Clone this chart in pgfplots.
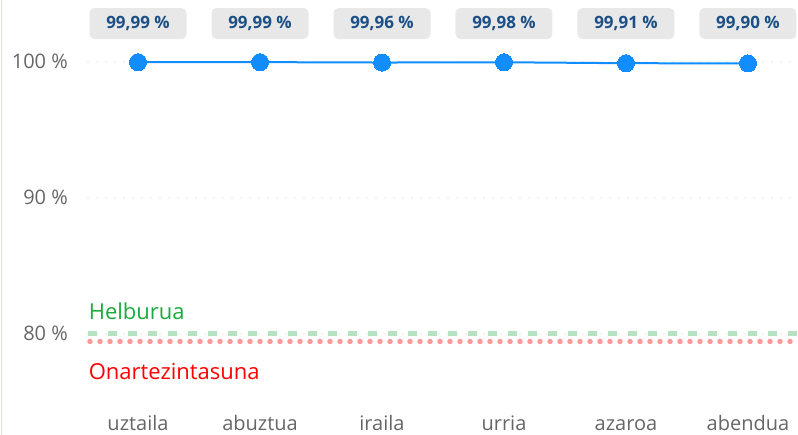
\documentclass[border=0pt]{standalone}
\usepackage{pgfplots}
\pgfplotsset{compat=1.18}
\usepackage{fontspec}
\setmainfont{Open Sans}
\definecolor{pbblue}{HTML}{118DFF}
\definecolor{lblgray}{HTML}{666666}
\definecolor{boxgray}{HTML}{E8E8E8}
\definecolor{lbltext}{HTML}{1B4F86}
\definecolor{tgtgreen}{HTML}{1AAB40}
\definecolor{tgtgreenlight}{HTML}{B5E3C2}
\definecolor{tolred}{HTML}{FF0000}
\definecolor{tolredlight}{HTML}{FF9A9A}
\definecolor{gridgray}{HTML}{C8C8C8}
\definecolor{borderc}{HTML}{E3E0DB}
\begin{document}
\begin{tikzpicture}[x=1pt,y=1pt]
\path[use as bounding box] (0,0) rectangle (798,435);
\draw[color=borderc, line width=1.5pt] (1.5,0) -- (1.5,435);
\begin{axis}[at={(88pt,35pt)}, anchor=south west, scale only axis,
  width=710pt, height=400pt,
  xmin=-0.41, xmax=5.41, ymin=75.147, ymax=104.559,
  clip=false,
  axis line style={draw=none},
  major tick length=0pt,
  tick style={draw=none},
  xtick={0,1,2,3,4,5},
  xticklabels={uztaila,abuztua,iraila,urria,azaroa,abendua},
  ytick={80,90,100},
  yticklabels={80 \%,90 \%,100 \%},
  ticklabel style={font=\fontsize{20}{24}\selectfont, text=lblgray, inner sep=0pt},
  xticklabel style={anchor=base, yshift=-31pt, text depth=0pt},
  yticklabel style={anchor=base east, xshift=-20pt, yshift=-7pt},
  ymajorgrids,
  grid style={gridgray, line width=1.3pt, line cap=round, dash pattern=on 0pt off 9pt},
]
\addplot[tgtgreenlight, line width=5pt, dash pattern=on 9pt off 11pt] coordinates {(-0.41,80) (5.41,80)};
\addplot[tolredlight, line width=5.5pt, line cap=round, dash pattern=on 0pt off 10pt, dash phase=-2pt] coordinates {(-0.41,79.45) (5.41,79.45)};
\addplot[pbblue, line width=2pt, mark=*, mark size=8.5pt, mark options={fill=pbblue, draw=pbblue, line width=0pt}]
  coordinates {(0,99.99) (1,99.99) (2,99.96) (3,99.98) (4,99.91) (5,99.90)};
\addplot[draw=none, mark=none, nodes near coords, point meta=explicit symbolic,
  every node near coord/.append style={anchor=center, fill=boxgray, rounded corners=5pt,
    text=lbltext, font=\fontsize{17}{20}\selectfont\bfseries, minimum width=97pt,
    minimum height=31pt, inner sep=0pt}]
  coordinates {(0,102.83) [99,99 \%] (1,102.83) [99,99 \%] (2,102.83) [99,96 \%]
    (3,102.83) [99,98 \%] (4,102.83) [99,91 \%] (5,102.83) [99,90 \%]};
\node[anchor=base west, text=tgtgreen, font=\fontsize{22}{26}\selectfont, inner sep=0pt] at (axis cs:-0.405,81.10) {Helburua};
\node[anchor=base west, text=tolred, font=\fontsize{22}{26}\selectfont, inner sep=0pt] at (axis cs:-0.405,76.69) {Onartezintasuna};
\end{axis}
\end{tikzpicture}
\end{document}
